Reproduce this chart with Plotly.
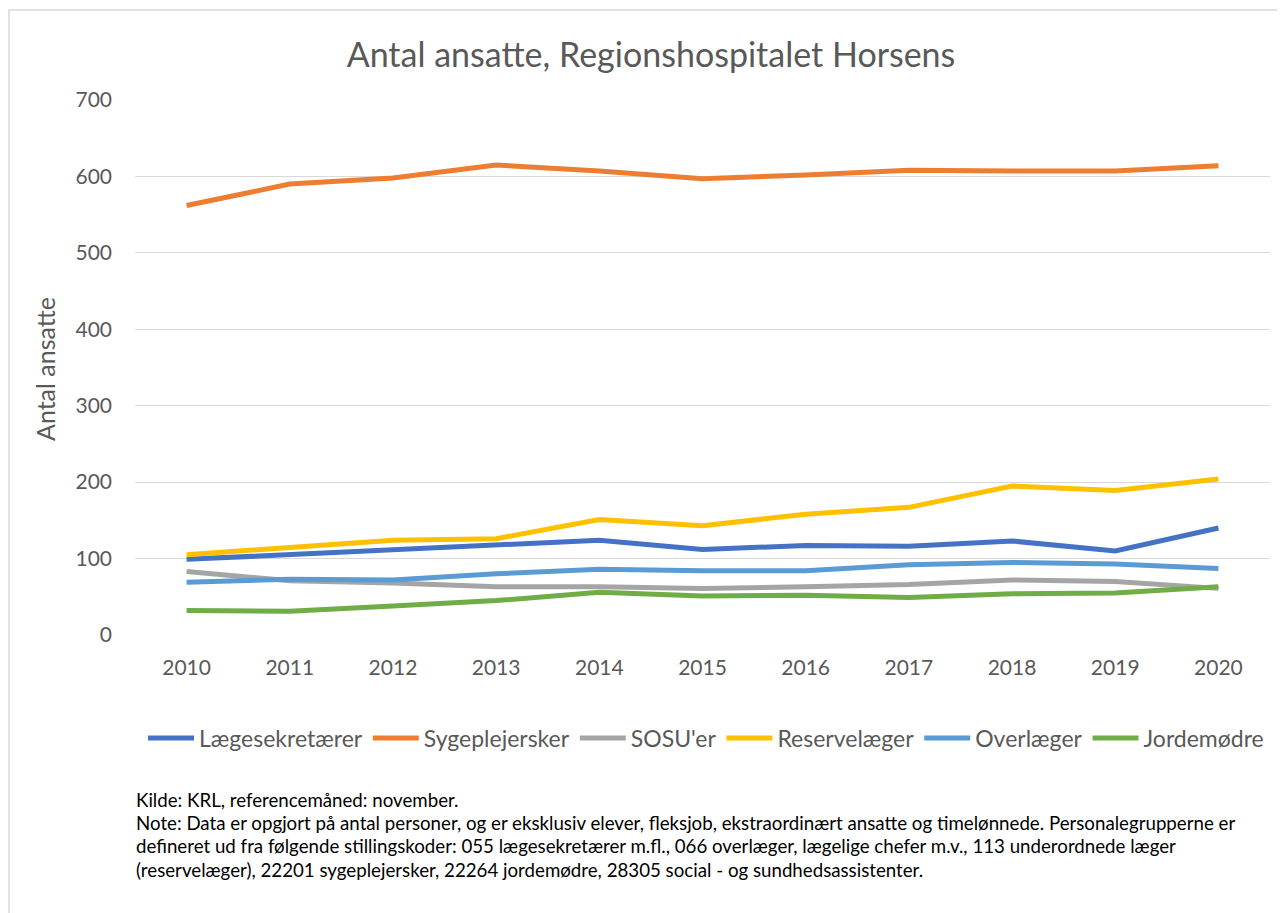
import plotly.graph_objects as go

years = [2010, 2011, 2012, 2013, 2014, 2015, 2016, 2017, 2018, 2019, 2020]
laegesekretaerer = [99, 105, 111, 117, 124, 112, 117, 116, 123, 110, 140]
sygeplejersker = [562, 590, 598, 615, 607, 597, 602, 608, 607, 607, 614]
sosuer = [83, 71, 68, 63, 63, 61, 63, 66, 72, 70, 61]
reservelaeger = [105, 115, 124, 126, 151, 143, 158, 167, 195, 189, 204]
overlaeger = [69, 73, 72, 80, 86, 84, 84, 92, 95, 93, 87]
jordemoedre = [32, 31, 38, 45, 56, 51, 52, 49, 54, 55, 63]

series = [
    ("Lægesekretærer", laegesekretaerer, "#4472C4"),
    ("Sygeplejersker", sygeplejersker, "#ED7D31"),
    ("SOSU'er", sosuer, "#A5A5A5"),
    ("Reservelæger", reservelaeger, "#FFC000"),
    ("Overlæger", overlaeger, "#5B9BD5"),
    ("Jordemødre", jordemoedre, "#70AD47"),
]

font_family = "Lato"
grey_text = "#595959"

# page offset (body margin) compensation: layout px = page px - 8
W, H = 1277, 905
L, T, R, B = 127, 92, 15, 278
PW, PH = W - L - R, H - T - B

def px_x(page_x):
    return (page_x - 8 - L) / PW

def px_y(page_y):
    return (H - B - (page_y - 8)) / PH

fig = go.Figure()
for name, vals, color in series:
    fig.add_trace(go.Scatter(
        x=[str(y) for y in years], y=vals, name=name, mode="lines",
        line=dict(color=color, width=5),
    ))

note_lines = [
    "Kilde: KRL, referencemåned: november.",
    "Note: Data er opgjort på antal personer, og er eksklusiv elever, fleksjob, ekstraordinært ansatte og timelønnede. Personalegrupperne er",
    "defineret ud fra følgende stillingskoder: 055 lægesekretærer m.fl., 066 overlæger, lægelige chefer m.v., 113 underordnede læger",
    "(reservelæger), 22201 sygeplejersker, 22264 jordemødre, 28305 social - og sundhedsassistenter.",
]

annotations = [
    dict(text="Antal ansatte", x=px_x(45), y=px_y(369), xref="paper", yref="paper",
         textangle=-90, showarrow=False, font=dict(size=25, color=grey_text, family=font_family),
         xanchor="center", yanchor="middle"),
]
note_y_px = [800, 823, 846, 870]
for line, py in zip(note_lines, note_y_px):
    annotations.append(dict(
        text=line, x=px_x(134), y=px_y(py), xref="paper", yref="paper",
        showarrow=False, xanchor="left", yanchor="middle", align="left",
        font=dict(size=18.7, color="#000000", family=font_family),
    ))

fig.update_layout(
    width=W, height=H,
    margin=dict(l=L, r=R, t=T, b=B),
    paper_bgcolor="white", plot_bgcolor="white",
    font=dict(family=font_family, color=grey_text),
    title=dict(text="Antal ansatte, Regionshospitalet Horsens", x=(651 - 8) / W, xanchor="center",
               y=(H - (55 - 8)) / H, yanchor="middle", yref="container",
               font=dict(size=34, color=grey_text, family=font_family)),
    xaxis=dict(type="category", range=[-0.5, 10.5], showgrid=False, showline=False, ticks="",
               ticklabelstandoff=18, tickfont=dict(size=21, color=grey_text), fixedrange=True),
    yaxis=dict(range=[0, 700], dtick=100, showgrid=True, gridcolor="#D9D9D9", gridwidth=1,
               zeroline=False, showline=False, ticks="", ticklabelstandoff=22,
               tickfont=dict(size=21, color=grey_text)),
    legend=dict(orientation="h", x=px_x(706), xanchor="center", y=px_y(738), yanchor="middle",
                font=dict(size=23, color=grey_text, family=font_family), itemwidth=46,
                tracegroupgap=0),
    showlegend=True,
    annotations=annotations,
    shapes=[dict(type="rect", xref="paper", yref="paper",
                 x0=px_x(9), x1=px_x(1300),
                 y0=px_y(930), y1=px_y(10),
                 line=dict(color="#D9D9D9", width=1.5), fillcolor="rgba(0,0,0,0)", layer="below")],
)

fig.write_html("out.html")
